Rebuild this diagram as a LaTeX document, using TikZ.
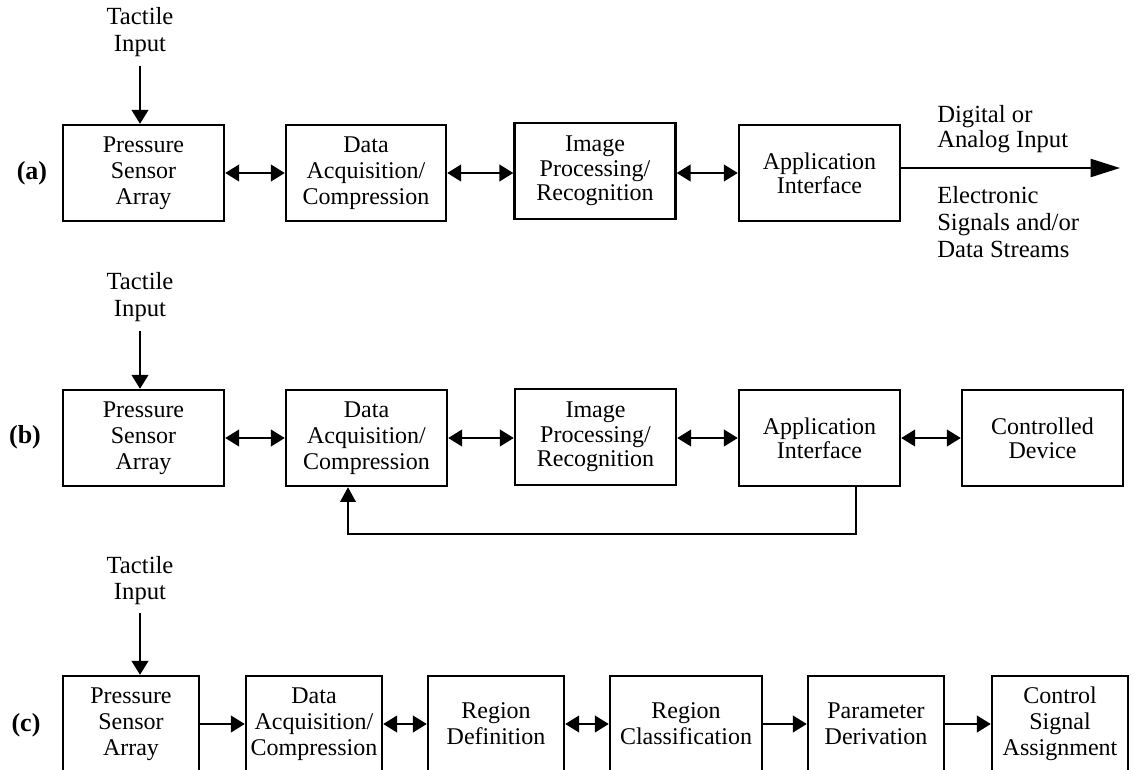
\documentclass[tikz,border=0pt]{standalone}
\usepackage{fontspec}
\setmainfont{Liberation Serif}
\usetikzlibrary{arrows.meta}
\begin{document}
\begin{tikzpicture}[x=0.75pt,y=-0.75pt,
  box/.style={draw, line width=1.8pt, minimum height=72pt, minimum width=#1*0.75pt, align=center, inner sep=0pt, font=\fontsize{18}{19.5}\selectfont},
  box/.default=161,
  tight/.style={font=\fontsize{18}{18}\selectfont},
  mid/.style={font=\fontsize{18}{18.5}\selectfont},
  txt/.style={align=center, inner sep=0pt, font=\fontsize{18.5}{20}\selectfont},
  lbl/.style={inner sep=0pt, font=\fontsize{19.5}{20}\selectfont\bfseries},
  tri/.tip={Triangle[length=10.5pt,width=12.5pt]},
  both/.style={line width=1.7pt, {tri}-{tri}},
  one/.style={line width=1.7pt, -{tri}},
  outarr/.style={line width=1.7pt, -{Triangle[length=22pt,width=13.5pt]}}
]
\useasboundingbox (0,0) rectangle (1133,769);
\clip (0,0) rectangle (1133,769);

% ---------- row (a) ----------
\node[lbl] (la) at (32,173) {(a)};
\node[txt] (ta) at (140,32) {Tactile\\Input};
\coordinate (ta0) at (140,66);
\node[box] (A1) at (143.5,173) {Pressure\\Sensor\\Array};
\node[box=160] (A2) at (366,173) {Data\\Acquisition/\\Compression};
\node[box, mid] (A3) at (595,171) {Image\\Processing/\\Recognition};
\node[box, tight] (A4) at (819.5,173) {Application\\Interface};
\coordinate (outend) at (1120,168);
\draw[one] (ta0) -- (ta0 |- A1.north);
\draw[both] (A1) -- (A2);
\draw[both] (A2) -- (A3.west |- A2);
\draw[both] (A3.east |- A4) -- (A4);
\draw[outarr] (A4.east |- outend) -- (outend);
\node[anchor=west, align=left, inner sep=0pt, font=\fontsize{18.5}{18.75}\selectfont] (dig) at (937,129) {Digital or\\Analog Input};
\node[anchor=west, align=left, inner sep=0pt, font=\fontsize{18.5}{20}\selectfont] (ele) at (937,222) {Electronic\\Signals and/or\\Data Streams};

% ---------- row (b) ----------
\node[lbl] (lb) at (25,437) {(b)};
\node[txt] (tb) at (140,297) {Tactile\\Input};
\coordinate (tb0) at (140,331);
\node[box] (B1) at (143.5,438) {Pressure\\Sensor\\Array};
\node[box] (B2) at (366.5,438) {Data\\Acquisition/\\Compression};
\node[box, mid] (B3) at (595.5,437) {Image\\Processing/\\Recognition};
\node[box, tight] (B4) at (819.5,438) {Application\\Interface};
\node[box, tight] (B5) at (1042.5,438) {Controlled\\Device};
\draw[one] (tb0) -- (tb0 |- B1.north);
\draw[both] (B1) -- (B2);
\draw[both] (B2) -- (B3.west |- B2);
\draw[both] (B3.east |- B4) -- (B4);
\draw[both] (B4) -- (B5);
\coordinate (fb1) at (856,534);
\coordinate (fb2) at (348,534);
\draw[line width=1.7pt, -{Triangle[length=11pt,width=11.5pt]}] (fb1 |- B4.south) -- (fb1) -- (fb2) -- (fb2 |- B2.south);

% ---------- row (c) ----------
\node[lbl] (lc) at (26,725) {(c)};
\node[txt] (tc) at (140,580.5) {Tactile\\Input};
\coordinate (tc0) at (140,613);
\node[box=136] (C1) at (131,724) {Pressure\\Sensor\\Array};
\node[box=136] (C2) at (314,724) {Data\\Acquisition/\\Compression};
\node[box=136] (C3) at (496,724) {Region\\Definition};
\node[box=152] (C4) at (686,724) {Region\\Classification};
\node[box=136] (C5) at (876,724) {Parameter\\Derivation};
\node[box=136] (C6) at (1060,724) {Control\\Signal\\Assignment};
\draw[one] (tc0) -- (tc0 |- C1.north);
\draw[one] (C1) -- (C2);
\draw[both] (C2) -- (C3);
\draw[both] (C3) -- (C4);
\draw[one] (C4) -- (C5);
\draw[one] (C5) -- (C6);
\end{tikzpicture}
\end{document}
